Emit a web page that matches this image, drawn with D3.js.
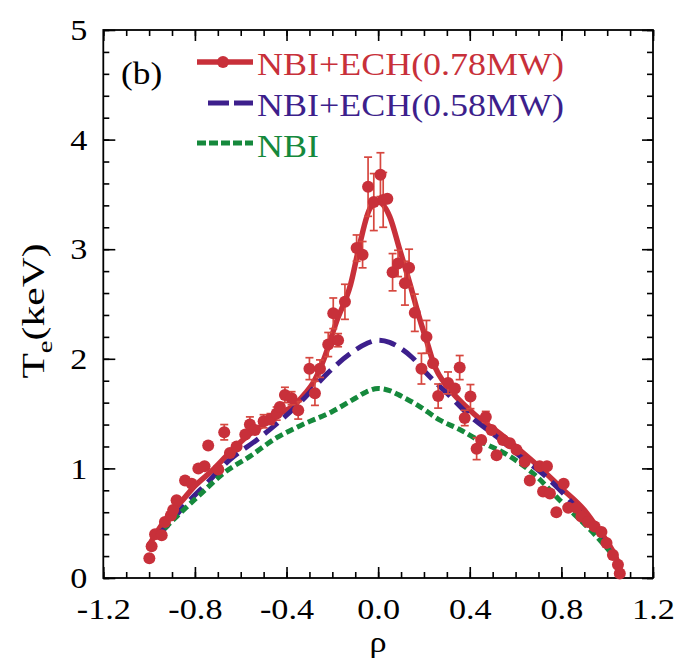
<!DOCTYPE html>
<html><head><meta charset="utf-8">
<script src="https://cdn.jsdelivr.net/npm/d3@7"></script>
<style>body{margin:0;background:#fff}svg{display:block}text{font-family:"Liberation Serif","Times New Roman",serif}</style>
</head><body><svg id="c" width="677" height="660"></svg>
<script>
// measured points: NBI+ECH(0.78MW)
const rho = [-0.999,-0.989,-0.974,-0.945,-0.931,-0.905,-0.895,-0.88,-0.843,-0.814,-0.785,-0.758,-0.742,-0.698,-0.672,-0.647,-0.618,-0.58,-0.56,-0.538,-0.50,-0.47,-0.443,-0.429,-0.407,-0.378,-0.349,-0.30,-0.276,-0.254,-0.218,-0.196,-0.175,-0.145,-0.094,-0.068,-0.044,-0.019,0.01,0.022,0.04,0.063,0.087,0.117,0.135,0.16,0.189,0.211,0.24,0.262,0.305,0.335,0.356,0.378,0.403,0.43,0.45,0.47,0.495,0.517,0.545,0.575,0.604,0.64,0.662,0.705,0.72,0.737,0.75,0.778,0.81,0.83,0.866,0.887,0.916,0.945,0.975,0.997,1.025,1.047,1.055];
const te  = [0.18,0.29,0.40,0.39,0.51,0.57,0.62,0.71,0.89,0.86,1.00,1.02,1.21,0.99,1.33,1.14,1.20,1.31,1.40,1.35,1.43,1.45,1.50,1.56,1.67,1.64,1.53,1.91,1.685,1.91,2.13,2.415,2.17,2.52,3.01,2.95,3.57,3.43,3.68,3.45,3.46,2.79,2.87,2.69,2.83,2.42,1.91,2.20,1.96,1.66,1.78,1.73,1.92,1.46,1.655,1.18,1.26,1.47,1.35,1.12,1.26,1.23,1.17,1.06,0.89,1.02,0.79,1.02,0.77,0.60,0.86,0.64,0.64,0.56,0.51,0.47,0.42,0.32,0.21,0.12,0.04];
const teErr = [0,0,0,0,0,0,0,0,0,0,0,0,0,0,0.07,0,0,0,0.07,0,0.06,0.05,0.06,0,0.07,0.06,0.08,0.10,0.11,0.08,0.11,0.14,0.06,0.16,0.12,0.12,0.27,0.26,0.20,0.25,0,0.17,0.12,0.20,0.17,0.17,0.14,0.15,0,0.11,0.10,0,0.11,0.07,0.11,0.10,0,0.05,0,0,0,0,0,0,0,0,0,0,0,0,0,0,0,0,0,0,0,0,0,0,0];
// fitted profiles
const fitRho078 = [-1.0,-0.95,-0.9,-0.85,-0.8,-0.72,-0.65,-0.574,-0.5,-0.43,-0.37,-0.32,-0.284,-0.24,-0.18,-0.12,-0.08,-0.036,0,0.05,0.095,0.138,0.182,0.218,0.24,0.313,0.386,0.45,0.531,0.6,0.7,0.8,0.9,0.95,1.0,1.04,1.06];
const fitTe078  = [0.30,0.47,0.60,0.72,0.84,0.99,1.14,1.29,1.40,1.50,1.57,1.68,1.78,1.98,2.35,2.68,3.05,3.37,3.43,3.30,2.99,2.69,2.36,2.12,1.97,1.72,1.56,1.44,1.32,1.20,1.02,0.82,0.62,0.48,0.33,0.18,0.05];
const fitRho058 = [-0.97,-0.923,-0.85,-0.75,-0.647,-0.53,-0.43,-0.327,-0.225,-0.12,-0.05,0,0.05,0.095,0.15,0.21,0.313,0.40,0.517,0.62,0.735,0.836,0.95,1.02];
const fitTe058  = [0.38,0.47,0.65,0.86,1.08,1.26,1.43,1.63,1.86,2.05,2.14,2.17,2.15,2.10,2.01,1.87,1.66,1.48,1.29,1.11,0.92,0.71,0.42,0.22];
const fitRhoNBI = [-0.97,-0.88,-0.778,-0.676,-0.56,-0.443,-0.34,-0.2,-0.1,-0.05,0,0.05,0.1,0.17,0.27,0.356,0.444,0.575,0.69,0.793,0.953,1.03];
const fitTeNBI  = [0.37,0.56,0.76,0.955,1.11,1.28,1.39,1.52,1.64,1.70,1.73,1.71,1.66,1.58,1.44,1.355,1.25,1.11,0.93,0.71,0.38,0.20];
const xTicks = [-1.2,-0.8,-0.4,0.0,0.4,0.8,1.2];
const yTicks = [0,1,2,3,4,5];
const legendLabels = ["NBI+ECH(0.78MW)","NBI+ECH(0.58MW)","NBI"];

const RED="#c8303a", ERR="#d6473f", BLUE="#3d1f8c", GREEN="#15893c";
const svg = d3.select("#c");
const x = d3.scaleLinear().domain([-1.2,1.2]).range([103.3,653]);
const y = d3.scaleLinear().domain([0,5]).range([578,30]);
const minorX = d3.range(-12,13).map(d=>d/10);
const minorY = d3.range(0,26).map(d=>d/5);

function styleAxis(g){g.select(".domain").remove();g.selectAll("line").attr("stroke","#000").attr("stroke-width",1.6);}
// minor ticks
svg.append("g").attr("transform",`translate(0,${y(0)})`).call(d3.axisBottom(x).tickValues(minorX).tickSize(-6).tickFormat("")).call(styleAxis);
svg.append("g").attr("transform",`translate(0,${y(5)})`).call(d3.axisTop(x).tickValues(minorX).tickSize(-6).tickFormat("")).call(styleAxis);
svg.append("g").attr("transform",`translate(${x(-1.2)},0)`).call(d3.axisLeft(y).tickValues(minorY).tickSize(-6).tickFormat("")).call(styleAxis);
svg.append("g").attr("transform",`translate(${x(1.2)},0)`).call(d3.axisRight(y).tickValues(minorY).tickSize(-6).tickFormat("")).call(styleAxis);
// major ticks
const xb = svg.append("g").attr("transform",`translate(0,${y(0)})`).call(d3.axisBottom(x).tickValues(xTicks).tickSize(-11).tickPadding(20).tickFormat(d=>d.toFixed(1))).call(styleAxis);
svg.append("g").attr("transform",`translate(0,${y(5)})`).call(d3.axisTop(x).tickValues(xTicks).tickSize(-11).tickFormat("")).call(styleAxis);
const yl = svg.append("g").attr("transform",`translate(${x(-1.2)},0)`).call(d3.axisLeft(y).tickValues(yTicks).tickSize(-12).tickPadding(16).tickFormat(d3.format("d"))).call(styleAxis);
svg.append("g").attr("transform",`translate(${x(1.2)},0)`).call(d3.axisRight(y).tickValues(yTicks).tickSize(-11).tickFormat("")).call(styleAxis);
svg.selectAll(".tick text").attr("font-family","Liberation Serif").attr("font-size",30).attr("fill","#000");
// frame
svg.append("rect").attr("x",x(-1.2)).attr("y",y(5)).attr("width",x(1.2)-x(-1.2)).attr("height",y(0)-y(5)).attr("fill","none").attr("stroke","#000").attr("stroke-width",1.8);

// curves
const line = d3.line().x(d=>x(d[0])).y(d=>y(d[1])).curve(d3.curveMonotoneX);
svg.append("path").datum(d3.zip(fitRho078,fitTe078)).attr("d",line).attr("fill","none").attr("stroke",RED).attr("stroke-width",5.5);
svg.append("path").datum(d3.zip(fitRho058,fitTe058)).attr("d",line).attr("fill","none").attr("stroke",BLUE).attr("stroke-width",5).attr("stroke-dasharray","17,8");
svg.append("path").datum(d3.zip(fitRhoNBI,fitTeNBI)).attr("d",line).attr("fill","none").attr("stroke",GREEN).attr("stroke-width",5).attr("stroke-dasharray","8,4");

// error bars
const pts = d3.zip(rho,te,teErr);
const eb = svg.append("g").attr("stroke",ERR).attr("stroke-width",1.7);
pts.filter(d=>d[2]>0).forEach(d=>{
  const cx=x(d[0]), y1=y(d[1]+d[2]), y2=y(d[1]-d[2]);
  eb.append("line").attr("x1",cx).attr("x2",cx).attr("y1",y1).attr("y2",y2);
  eb.append("line").attr("x1",cx-4).attr("x2",cx+4).attr("y1",y1).attr("y2",y1);
  eb.append("line").attr("x1",cx-4).attr("x2",cx+4).attr("y1",y2).attr("y2",y2);
});
svg.append("g").selectAll("circle").data(pts).join("circle").attr("cx",d=>x(d[0])).attr("cy",d=>y(d[1])).attr("r",6).attr("fill",RED);

// legend
const lg = svg.append("g");
lg.append("line").attr("x1",197).attr("x2",253).attr("y1",62).attr("y2",62).attr("stroke",RED).attr("stroke-width",5.5);
lg.append("circle").attr("cx",223).attr("cy",62).attr("r",6).attr("fill",RED);
lg.append("line").attr("x1",208).attr("x2",253).attr("y1",103).attr("y2",103).attr("stroke",BLUE).attr("stroke-width",5).attr("stroke-dasharray","21,5");
lg.append("line").attr("x1",197).attr("x2",253).attr("y1",143).attr("y2",143).attr("stroke",GREEN).attr("stroke-width",5).attr("stroke-dasharray","9,3");
const lcol=[RED,BLUE,GREEN], lyb=[75,116,157];
legendLabels.forEach((t,i)=>{
  lg.append("text").attr("class","lgt").attr("x",257).attr("y",lyb[i]).attr("font-size",31).attr("fill",lcol[i]).text(t);
});
svg.append("text").attr("x",121).attr("y",84).attr("font-size",31).attr("fill","#000").text("(b)");
// axis titles
svg.append("text").attr("x",x(0)).attr("y",652).attr("text-anchor","middle").attr("font-size",30).attr("fill","#000").text("ρ");
const yt = svg.append("text").attr("transform","translate(44,311) rotate(-90)").attr("text-anchor","middle").attr("font-size",32).attr("fill","#000");
yt.append("tspan").text("T");
yt.append("tspan").attr("font-size",22).attr("dy",8).text("e");
yt.append("tspan").attr("dy",-8).text("(keV)");

// slight horizontal widening of glyphs to match reference
svg.selectAll("text").each(function(){
  if (this===yt.node()) return;
  const L=this.getComputedTextLength();
  const k = this.classList.contains("lgt") ? 1.16 : 1.14;
  d3.select(this).attr("textLength",L*k).attr("lengthAdjust","spacingAndGlyphs");
});
yt.attr("textLength",yt.node().getComputedTextLength()*1.3).attr("lengthAdjust","spacingAndGlyphs");
</script></body></html>
